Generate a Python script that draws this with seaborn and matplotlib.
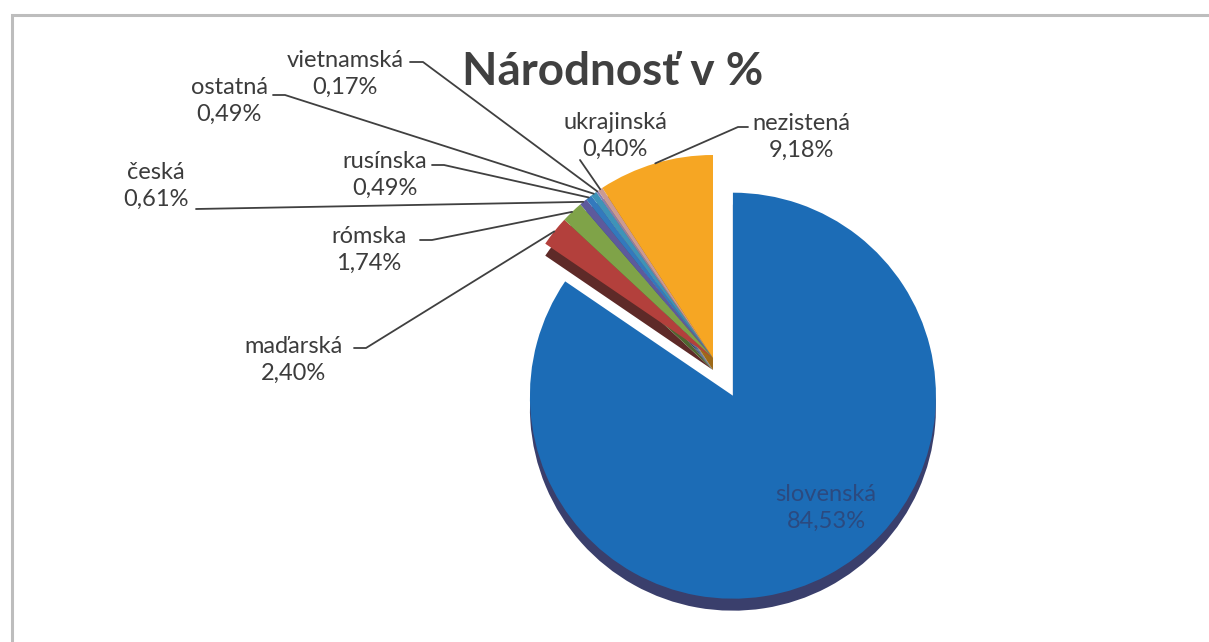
import numpy as np
import matplotlib
matplotlib.use("Agg")
import matplotlib.pyplot as plt
import seaborn as sns

# --- data (clockwise from 12 o'clock) ---
narodnosti = ["slovenská", "maďarská", "rómska", "česká", "rusínska",
              "ostatná", "vietnamská", "ukrajinská", "nezistená"]
podiel = [84.53, 2.40, 1.74, 0.61, 0.49, 0.49, 0.17, 0.40, 9.18]
farby = ["#1C6CB6", "#B3403C", "#7FA348", "#5D5A9C", "#3379BD",
         "#3E93B8", "#8A7FB0", "#C99A94", "#F6A623"]
tiene = ["#3A3F6C", "#5E2A28", "#4E6630", "#3A3760", "#2A4C78",
         "#2A5E76", "#56507A", "#7E605C", "#9E6A18"]

sns.set_theme(style="white")
plt.rcParams["font.family"] = ["Lato", "DejaVu Sans"]

W, H = 1209, 642
fig = plt.figure(figsize=(W / 100, H / 100), dpi=100)
ax = fig.add_axes([0, 0, 1, 1])


def py(y):
    # pixel row -> data y
    return H - y


cx, cy, r = 713, 358, 203
# explode is in data units here (radius is in pixels)
explode = [0.21 * r] + [0] * (len(podiel) - 1)

# 3D depth: darker copy shifted down
ax.pie(podiel, colors=tiene, startangle=90, counterclock=False, explode=explode,
       center=(cx, py(cy + 12)), radius=r, wedgeprops=dict(linewidth=0))
wedges, _ = ax.pie(podiel, colors=farby, startangle=90, counterclock=False,
                   explode=explode, center=(cx, py(cy)), radius=r,
                   wedgeprops=dict(linewidth=0))

ax.set_xlim(0, W)
ax.set_ylim(0, H)
ax.set_aspect("equal")
ax.axis("off")

# frame of the chart area
ax.plot([12, 12, W + 5], [py(H + 5), py(15), py(15)], color="#BDBDBD", lw=2.2,
        solid_joinstyle="miter")

ax.text(613, py(72), "Národnosť v %", ha="center", va="center",
        fontsize=33, fontweight="bold", color="#404040")


def perc(v):
    return f"{v:.2f}".replace(".", ",") + "%"


# label positions (pixels) and leader start points
pozicie = {
    "maďarská": ((294, 360), [(354, 348), (366, 348)]),
    "rómska": ((369, 250), [(420, 240), (432, 240)]),
    "česká": ((156, 186), [(196, 209)]),
    "rusínska": ((385, 175), [(432, 165), (444, 165)]),
    "ostatná": ((229, 101), [(273, 95), (285, 95)]),
    "vietnamská": ((345, 74), [(410, 62), (423, 62)]),
    "ukrajinská": ((615, 136), [(580, 160)]),
    "nezistená": ((801, 137), [(748, 127), (738, 127)]),
}

for w, name, v in zip(wedges, narodnosti, podiel):
    if name == "slovenská":
        ax.text(826, py(508), f"{name}\n{perc(v)}", ha="center", va="center",
                fontsize=17, color="#2B4A80", linespacing=1.35)
        continue
    (tx, ty), start = pozicie[name]
    ax.text(tx, py(ty), f"{name}\n{perc(v)}", ha="center", va="center",
            fontsize=17, color="#3C3C3C", linespacing=1.35)
    mid = np.deg2rad((w.theta1 + w.theta2) / 2)
    ex = w.center[0] + w.r * np.cos(mid)
    ey = w.center[1] + w.r * np.sin(mid)
    xs = [p[0] for p in start] + [ex]
    ys = [py(p[1]) for p in start] + [ey]
    ax.plot(xs, ys, color="#404040", lw=1.3)

fig.savefig("out.png", dpi=100)
